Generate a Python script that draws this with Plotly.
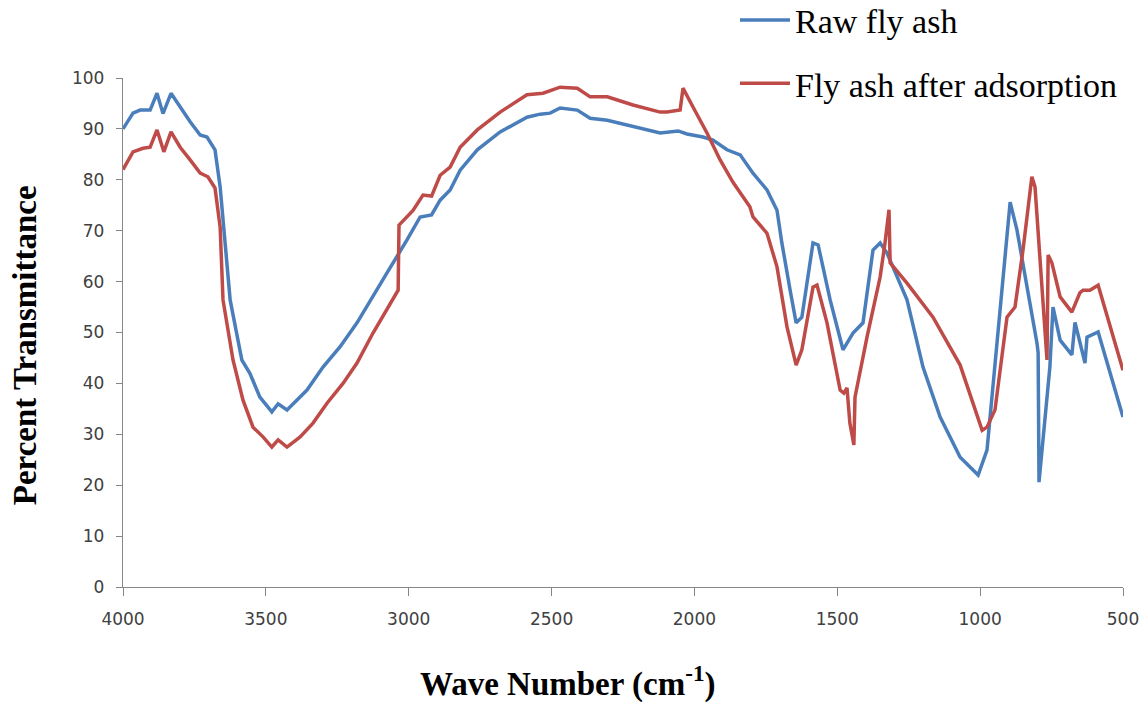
import plotly.graph_objects as go

# ---- Data ----
raw_wavenumber = [4000, 3965, 3940, 3905, 3881, 3860, 3832, 3800, 3765, 3730, 3706, 3678, 3660,
                  3625, 3584, 3556, 3521, 3479, 3457, 3426, 3391, 3356, 3300, 3240, 3181, 3125,
                  3076, 3006, 2960, 2920, 2890, 2855, 2820, 2760, 2680, 2586, 2540, 2505, 2470,
                  2410, 2365, 2305, 2235, 2120, 2057, 2026, 1970, 1935, 1886, 1840, 1795, 1746,
                  1711, 1694, 1665, 1644, 1624, 1585, 1567, 1525, 1480, 1445, 1410, 1375, 1350,
                  1326, 1256, 1200, 1140, 1070, 1007, 976, 895, 871, 801, 797, 794, 756, 745,
                  720, 679, 668, 633, 626, 587, 500]
raw_transmittance = [90, 93.1, 93.7, 93.7, 97, 93, 97, 94.3, 91.4, 88.8, 88.4, 85.9, 78.6,
                     56.4, 44.6, 42, 37.3, 34.4, 36, 34.8, 36.7, 38.7, 43.2, 47.2, 51.9, 57,
                     61.7, 68.2, 72.7, 73.1, 76, 78, 81.9, 85.9, 89.4, 92.3, 92.9, 93.1, 94.1,
                     93.7, 92.1, 91.7, 90.8, 89.2, 89.6, 89, 88.4, 87.8, 85.9, 84.9, 81.3, 78,
                     74, 67.6, 58.3, 51.9, 53, 67.6, 67.2, 56.4, 46.6, 49.9, 51.9, 66.2, 67.6,
                     65.6, 56.4, 43.2, 33.4, 25.5, 22, 26.9, 75.6, 70.1, 47.9, 46, 20.6, 43.2, 55,
                     48.5, 45.6, 52, 44, 49.1, 50.1, 33.4]

ads_wavenumber = [4000, 3965, 3930, 3905, 3881, 3857, 3832, 3800, 3765, 3730, 3703, 3678, 3660,
                  3650, 3615, 3580, 3545, 3510, 3479, 3457, 3426, 3380, 3335, 3286, 3230, 3181,
                  3125, 3076, 3037, 3034, 2985, 2950, 2920, 2890, 2855, 2820, 2760, 2680, 2586,
                  2530, 2470, 2410, 2365, 2305, 2215, 2120, 2096, 2050, 2040, 2005, 1956, 1910,
                  1865, 1806, 1795, 1746, 1711, 1676, 1644, 1624, 1585, 1571, 1536, 1490, 1477,
                  1466, 1456, 1442, 1438, 1396, 1350, 1333, 1319, 1315, 1256, 1165, 1070, 993,
                  976, 948, 906, 878, 850, 819, 808, 766, 762, 749, 720, 679, 651, 640, 616,
                  587, 500]
ads_transmittance = [82, 85.5, 86.2, 86.4, 89.8, 85.5, 89.4, 86.4, 83.9, 81.3, 80.6, 78.4, 70.7,
                     56.4, 44.6, 36.7, 31.4, 29.5, 27.5, 28.9, 27.5, 29.5, 32.2, 36.1, 40, 44,
                     49.9, 54.4, 58.3, 71.1, 74, 77, 76.8, 80.9, 82.5, 86.4, 89.8, 93.3, 96.7,
                     97, 98.2, 98, 96.3, 96.3, 94.7, 93.3, 93.3, 93.7, 98, 94.3, 89.2, 83.9,
                     79.5, 74.7, 72.7, 69.5, 62.9, 51.1, 43.6, 46.6, 58.9, 59.3, 51.9, 38.7, 38.1,
                     39.1, 32.2, 27.9, 37.3, 49.1, 60.9, 67.6, 74.1, 63.7, 59.7, 53, 43.6, 30.8,
                     31.4, 34.8, 53, 55, 66.2, 80.6, 78.6, 44.6, 65.2, 63.7, 57, 54, 57.8, 58.3, 58.3,
                     59.3, 42.6]

series_names = ["Raw fly ash", "Fly ash after adsorption"]
x_ticks = [4000, 3500, 3000, 2500, 2000, 1500, 1000, 500]
y_ticks = [0, 10, 20, 30, 40, 50, 60, 70, 80, 90, 100]
x_title = "<b>Wave Number (cm<sup>-1</sup>)</b>"
y_title = "<b>Percent Transmittance</b>"

BLUE = "#4A7EBB"
RED = "#BE4B48"
AXIS = "#868686"
TICKFONT = dict(family="DejaVu Sans, Verdana, sans-serif", size=17, color="#404040")
SERIF = "Liberation Serif, Times New Roman, serif"

fig = go.Figure()
fig.add_trace(go.Scatter(x=raw_wavenumber, y=raw_transmittance, mode="lines",
                         name=series_names[0], legendgroup="a",
                         line=dict(color=BLUE, width=3.5)))
fig.add_trace(go.Scatter(x=ads_wavenumber, y=ads_transmittance, mode="lines",
                         name=series_names[1], legendgroup="b",
                         line=dict(color=RED, width=3.5)))

fig.update_layout(
    width=1148, height=707,
    margin=dict(l=123, r=25, t=78, b=120, autoexpand=False),
    paper_bgcolor="white", plot_bgcolor="white",
    legend=dict(x=0.612, y=1.17, xanchor="left", yanchor="top",
                font=dict(family=SERIF, size=34, color="#000000"),
                tracegroupgap=16, bgcolor="rgba(0,0,0,0)", itemwidth=50),
    xaxis=dict(range=[4000, 500], tickvals=x_ticks, ticktext=[str(v) for v in x_ticks],
               showgrid=False, zeroline=False, showline=True, linecolor=AXIS, linewidth=1.3,
               ticks="outside", ticklen=8, tickcolor=AXIS, tickfont=TICKFONT,
               ticklabelstandoff=8),
    yaxis=dict(range=[0, 100], tickvals=y_ticks, showgrid=False, zeroline=False,
               showline=True, linecolor=AXIS, linewidth=1.3, ticks="outside", ticklen=6,
               tickcolor=AXIS, tickfont=TICKFONT, ticklabelstandoff=8),
    annotations=[
        dict(text=x_title, xref="paper", yref="paper", x=0.444, y=-0.232,
             xanchor="center", yanchor="bottom", showarrow=False,
             font=dict(family=SERIF, size=33, color="#000000")),
        dict(text=y_title, xref="paper", yref="paper", x=-0.098, y=0.475,
             xanchor="center", yanchor="middle", showarrow=False, textangle=-90,
             font=dict(family=SERIF, size=33, color="#000000")),
    ],
)

fig.write_html("out.html")
